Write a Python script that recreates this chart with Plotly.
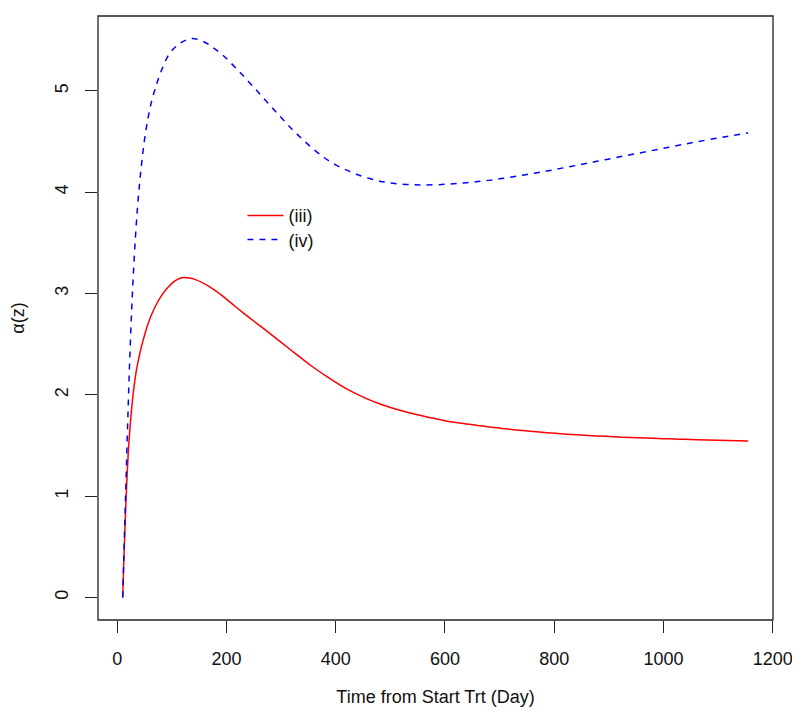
import plotly.graph_objects as go

# ---- data ----
x_iii = [10, 12, 14, 16, 18, 20, 22, 25, 28, 31, 35, 41, 47, 56, 68, 81, 93, 105, 114, 122,
         132, 142, 160, 179, 197, 212, 230, 264, 295, 325, 355, 386, 420, 450, 480, 511, 540,
         572, 600, 634, 665, 695, 725, 756, 787, 817, 848, 878, 909, 939, 970, 1000, 1030,
         1061, 1100, 1155]
y_iii = [0.0, 0.35, 0.66, 0.95, 1.2, 1.41, 1.58, 1.78, 1.95, 2.09, 2.24, 2.40, 2.53, 2.695,
         2.855, 2.98, 3.063, 3.122, 3.148, 3.158, 3.153, 3.14, 3.096, 3.032, 2.958, 2.891,
         2.812, 2.67, 2.54, 2.412, 2.287, 2.172, 2.058, 1.978, 1.912, 1.858, 1.815, 1.776,
         1.745, 1.716, 1.694, 1.674, 1.656, 1.64, 1.626, 1.614, 1.603, 1.594, 1.586, 1.579,
         1.573, 1.567, 1.562, 1.557, 1.551, 1.544]

x_iv = [10, 12, 14, 16, 18, 20, 22, 24.5, 27, 30, 33.5, 37, 41, 45, 50, 56, 63, 70, 80, 96,
        115, 136, 157, 175, 194, 212, 228, 243, 259, 275, 292, 309, 325, 342, 362, 380, 400,
        420, 438, 462, 490, 511, 540, 563, 600, 634, 665, 695, 725, 756, 787, 817, 848, 878,
        909, 939, 970, 1000, 1030, 1061, 1108, 1155]
y_iv = [0.0, 0.38, 0.76, 1.14, 1.51, 1.87, 2.21, 2.58, 2.91, 3.24, 3.57, 3.84, 4.09, 4.30,
        4.52, 4.72, 4.90, 5.03, 5.19, 5.37, 5.47, 5.517, 5.49, 5.43, 5.35, 5.255, 5.165,
        5.077, 4.982, 4.887, 4.785, 4.685, 4.596, 4.508, 4.413, 4.338, 4.27, 4.218, 4.178,
        4.135, 4.1, 4.084, 4.074, 4.072, 4.078, 4.092, 4.108, 4.128, 4.153, 4.181, 4.21,
        4.241, 4.273, 4.305, 4.338, 4.37, 4.402, 4.434, 4.466, 4.498, 4.544, 4.586]

x_ticks = [0, 200, 400, 600, 800, 1000, 1200]
y_ticks = [0, 1, 2, 3, 4, 5]
x_title = "Time from Start Trt (Day)"
y_title = "α(z)"
names = ["(iii)", "(iv)"]

FONT = "Liberation Sans, Arial, Helvetica, sans-serif"

fig = go.Figure()
fig.add_trace(go.Scatter(x=x_iii, y=y_iii, mode="lines", name=names[0], legend="legend",
                         line=dict(color="#FF0000", width=1.5, shape="spline", smoothing=1.0)))
fig.add_trace(go.Scatter(x=x_iv, y=y_iv, mode="lines", name=names[1], legend="legend2",
                         line=dict(color="#0000FF", width=1.5, dash="6px,6px",
                                   shape="spline", smoothing=1.0)))

axis_common = dict(showgrid=False, zeroline=False, showline=False, ticks="outside",
                   ticklen=12, tickwidth=1.2, tickcolor="#222222",
                   tickfont=dict(family=FONT, size=18, color="#111111"))

leg_common = dict(xanchor="left", yanchor="top", bgcolor="rgba(0,0,0,0)", borderwidth=0,
                  font=dict(family=FONT, size=18, color="#111111"), itemwidth=36)

fig.update_layout(
    width=792, height=715,
    margin=dict(l=90, r=27, t=8, b=103),
    paper_bgcolor="white", plot_bgcolor="white",
    font=dict(family=FONT, size=18, color="#111111"),
    showlegend=True,
    legend=dict(x=0.214, y=0.70, **leg_common),
    legend2=dict(x=0.214, y=0.66, **leg_common),
    xaxis=dict(range=[-35.2, 1200.5], tickvals=x_ticks, ticklabelstandoff=10,
               title=dict(text=x_title, standoff=22, font=dict(family=FONT, size=18)),
               **axis_common),
    yaxis=dict(range=[-0.223, 5.74], tickvals=y_ticks, tickangle=-90, ticklabelstandoff=10,
               title=dict(text=y_title, standoff=22, font=dict(family=FONT, size=18)),
               **axis_common),
)

# plot frame (R-style box)
fig.add_shape(type="rect", xref="paper", yref="paper", x0=0, y0=0, x1=1, y1=1,
              line=dict(color="#222222", width=1.3), fillcolor="rgba(0,0,0,0)")

fig.write_html("out.html")
